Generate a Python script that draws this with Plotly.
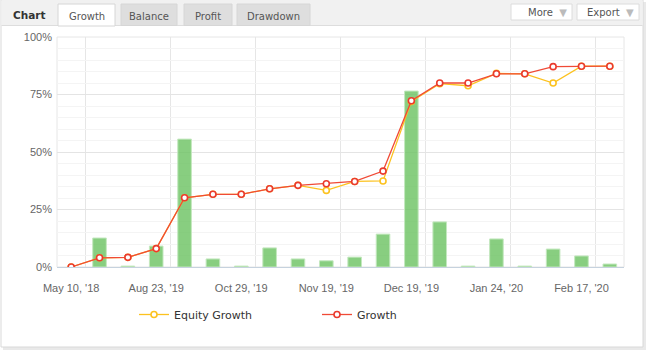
import plotly.graph_objects as go

# ---- data ----
categories = ["May 10, '18", "Jun 14, '18", "Jul 20, '18", "Aug 23, '19", "Sep 13, '19",
              "Oct 08, '19", "Oct 29, '19", "Nov 05, '19", "Nov 12, '19", "Nov 19, '19",
              "Nov 26, '19", "Dec 05, '19", "Dec 19, '19", "Dec 30, '19", "Jan 10, '20",
              "Jan 24, '20", "Feb 03, '20", "Feb 10, '20", "Feb 17, '20", "Feb 24, '20"]
growth = [0.0, 4.0, 4.2, 8.0, 30.1, 31.6, 31.6, 34.0, 35.5, 36.2,
          37.2, 41.7, 72.3, 80.0, 80.0, 84.0, 84.0, 87.1, 87.3, 87.3]
equity_growth = [0.0, 4.0, 4.2, 8.0, 30.1, 31.6, 31.6, 34.0, 35.5, 33.3,
                 37.2, 37.4, 72.0, 79.7, 78.8, 84.2, 84.0, 80.0, 87.3, 87.3]
period_growth = [None, 12.6, 0.4, 9.1, 55.6, 3.5, 0.4, 8.3, 3.5, 2.7,
                 4.3, 14.3, 76.5, 19.6, 0.4, 12.2, 0.4, 7.8, 4.8, 1.3]
y_ticks = [0, 25, 50, 75, 100]
y_tick_labels = ["0%", "25%", "50%", "75%", "100%"]
label_every = 3

# ---- geometry helpers ----
W, H = 647, 362
L, R, T, B = 57, 23, 37, 95
PW, PH = W - L - R, H - T - B


def fx(px):
    return (px - L) / PW


def fy(py):
    return (H - B - py) / PH


x = list(range(len(categories)))
tickvals = x[::label_every]
ticktext = categories[::label_every]

fig = go.Figure()
fig.add_trace(go.Bar(
    x=x, y=period_growth, width=0.48, showlegend=False,
    marker=dict(color="rgba(110,195,100,0.82)", line=dict(color="#c4e8bf", width=1)),
    hoverinfo="y"))
fig.add_trace(go.Scatter(
    x=x, y=equity_growth, name="Equity Growth", mode="lines+markers",
    line=dict(color="#fcc21f", width=1.3),
    marker=dict(symbol="circle", size=6, color="white", line=dict(color="#fcc21f", width=1.6))))
fig.add_trace(go.Scatter(
    x=x, y=growth, name="Growth", mode="lines+markers",
    line=dict(color="#f04a36", width=1.3),
    marker=dict(symbol="circle", size=6, color="white", line=dict(color="#ea3a2e", width=1.6))))

shapes = []
# widget shadow + box
shapes.append(dict(type="rect", xref="paper", yref="paper", x0=fx(3), x1=fx(646), y0=fy(350), y1=fy(2),
                   fillcolor="#e9e9e9", line=dict(width=0), layer="below"))
shapes.append(dict(type="rect", xref="paper", yref="paper", x0=fx(1), x1=fx(643), y0=fy(347), y1=fy(0),
                   fillcolor="white", line=dict(color="#d9d9d9", width=1), layer="below"))
# header
shapes.append(dict(type="rect", xref="paper", yref="paper", x0=fx(1.5), x1=fx(642.5), y0=fy(25.5), y1=fy(0),
                   fillcolor="#f1f1f1", line=dict(width=0), layer="below"))
shapes.append(dict(type="line", xref="paper", yref="paper", x0=fx(1.5), x1=fx(642.5), y0=fy(25.5), y1=fy(25.5),
                   line=dict(color="#dddddd", width=1), layer="below"))
# tabs
tabs = [("Growth", 58, 115, True), ("Balance", 121, 177, False),
        ("Profit", 184, 232, False), ("Drawdown", 237, 310, False)]
annotations = []
for name, a, b, active in tabs:
    shapes.append(dict(type="rect", xref="paper", yref="paper", x0=fx(a), x1=fx(b),
                       y0=fy(26 if active else 25.5), y1=fy(4),
                       fillcolor="white" if active else "#dedede",
                       line=dict(color="#d6d6d6", width=1), layer="below"))
    annotations.append(dict(text=name, xref="paper", yref="paper", x=fx((a + b) / 2), y=fy(16),
                            xanchor="center", yanchor="middle", showarrow=False,
                            font=dict(family="DejaVu Sans", size=10, color="#555555")))
annotations.append(dict(text="<b>Chart</b>", xref="paper", yref="paper", x=fx(11), y=fy(15),
                        xanchor="left", yanchor="middle", showarrow=False,
                        font=dict(family="DejaVu Sans", size=10.5, color="#333333")))
# buttons
for name, a, b in [("More", 511, 572), ("Export", 577, 639)]:
    shapes.append(dict(type="rect", xref="paper", yref="paper", x0=fx(a), x1=fx(b), y0=fy(20), y1=fy(4),
                       fillcolor="white", line=dict(color="#dcdcdc", width=1), layer="below"))
    annotations.append(dict(text=name + "  <span style='color:#bbbbbb'>\u25bc</span>", xref="paper", yref="paper",
                            x=fx(b - 3), y=fy(12.5), xanchor="right", yanchor="middle", showarrow=False,
                            font=dict(family="DejaVu Sans", size=10, color="#555555")))
# plot frame
shapes.append(dict(type="rect", xref="paper", yref="paper", x0=0, x1=1, y0=0, y1=1,
                   fillcolor="rgba(0,0,0,0)", line=dict(color="#e6e6e6", width=1), layer="below"))

fig.update_layout(
    width=W, height=H,
    margin=dict(l=L, r=R, t=T, b=B),
    paper_bgcolor="white", plot_bgcolor="white",
    bargap=0.5,
    shapes=shapes, annotations=annotations,
    showlegend=True,
    legend=dict(orientation="h", x=fx(134), y=fy(300), xanchor="left", yanchor="top",
                itemwidth=30, entrywidth=138, entrywidthmode="pixels",
                font=dict(family="DejaVu Sans", size=11, color="#333333"),
                bgcolor="rgba(0,0,0,0)"),
    xaxis=dict(range=[-0.5, len(categories) - 0.5], tickvals=tickvals, ticktext=ticktext,
               showgrid=False, zeroline=False, showline=True, linecolor="#c6d2de", linewidth=1,
               ticks="", ticklabelstandoff=11,
               tickfont=dict(family="Liberation Sans", size=11, color="#666666"),
               minor=dict(tickvals=[v + 0.5 for v in tickvals], showgrid=True, gridcolor="#e6e6e6",
                          gridwidth=1, ticks="")),
    yaxis=dict(range=[0, 100], tickvals=y_ticks, ticktext=y_tick_labels,
               showgrid=True, gridcolor="#e4e4e4", gridwidth=1, zeroline=False,
               ticks="", ticklabelstandoff=4,
               tickfont=dict(family="Liberation Sans", size=11, color="#666666"),
               minor=dict(dtick=5, showgrid=True, gridcolor="#f4f4f4", gridwidth=1, ticks="")),
    hovermode="x",
)

fig.write_html("out.html", config={"displayModeBar": False},
               post_script="document.body.style.margin='0';document.body.style.overflow='hidden';")
